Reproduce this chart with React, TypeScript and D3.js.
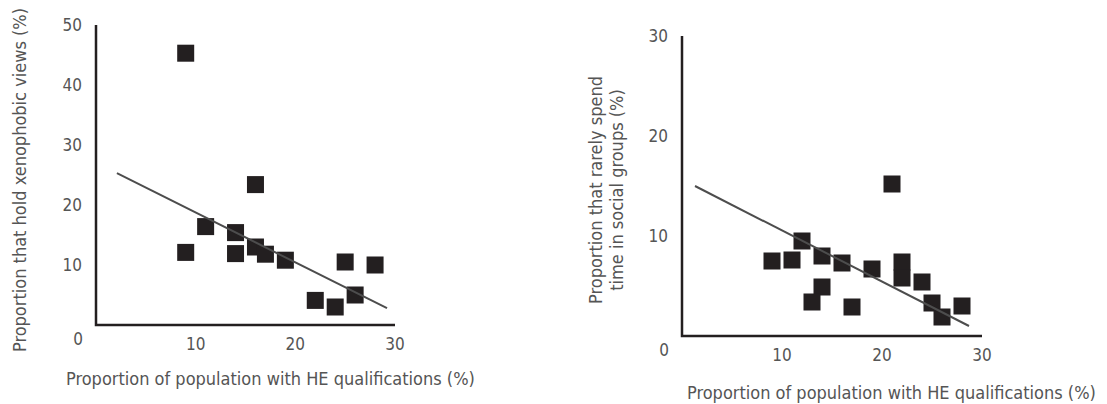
import * as d3 from 'd3';
import React from 'react';

// left panel: xenophobic views vs HE qualifications
const xenoX = [9, 9, 11, 16, 14, 14, 16, 17, 19, 22, 24, 25, 26, 28];
const xenoY = [45.3, 12.1, 16.4, 23.4, 15.4, 11.9, 13.0, 11.8, 10.8, 4.1, 3.0, 10.5, 5.0, 10.0];
const xenoTrend = [[2.1, 25.3], [29.2, 2.8]];
const xenoYTicks = [10, 20, 30, 40, 50];

// right panel: rarely spend time in social groups vs HE qualifications
const socialX = [9, 11, 12, 14, 14, 13, 16, 17, 19, 21, 22, 22, 24, 25, 26, 28];
const socialY = [7.5, 7.6, 9.5, 8.0, 4.9, 3.4, 7.3, 2.9, 6.7, 15.2, 7.4, 5.8, 5.4, 3.3, 1.9, 3.0];
const socialTrend = [[1.3, 15.0], [28.7, 1.0]];
const socialYTicks = [10, 20, 30];

const xTicks = [10, 20, 30];
const xTitle = 'Proportion of population with HE qualifications (%)';

const FONT = "'DejaVu Sans Condensed', 'DejaVu Sans', sans-serif";
const TEXT = '#555';
const INK = '#231f20';

type PanelProps = {
  xs: number[];
  ys: number[];
  trend: number[][];
  yTicks: number[];
  yMax: number;
  left: number;
  right: number;
  top: number;
  bottom: number;
  yTitle: string[];
  yTitleX: number;
  yTitleY: number;
  xTitleX: number;
  xTitleY: number;
};

const SQ = 17;

const Panel: React.FC<PanelProps> = (p) => {
  const x = d3.scaleLinear().domain([0, 30]).range([p.left, p.right]);
  const y = d3.scaleLinear().domain([0, p.yMax]).range([p.bottom, p.top]);
  const line = d3.line<number[]>().x((d) => x(d[0])).y((d) => y(d[1]));

  return (
    <g fontFamily={FONT} fill={TEXT}>
      {p.yTicks.map((t) => (
        <text key={'y' + t} x={p.left - 14} y={y(t)} textAnchor="end" dominantBaseline="central" fontSize={17}>
          {t}
        </text>
      ))}
      <text x={p.left - 13} y={p.bottom + 14} textAnchor="end" dominantBaseline="central" fontSize={17}>0</text>
      {xTicks.map((t) => (
        <text key={'x' + t} x={x(t)} y={p.bottom + 19} textAnchor="middle" dominantBaseline="central" fontSize={17}>
          {t}
        </text>
      ))}

      <path d={`M${p.left},${p.top}V${p.bottom}H${p.right}`} fill="none" stroke={INK} strokeWidth={2.5} />

      {p.xs.map((v, i) => (
        <rect key={i} x={x(v) - SQ / 2} y={y(p.ys[i]) - SQ / 2} width={SQ} height={SQ} fill={INK} />
      ))}

      <path d={line(p.trend) ?? ''} fill="none" stroke="#4d4d4d" strokeWidth={2} />

      {p.yTitle.map((s, i) => (
        <text
          key={s}
          transform={`translate(${p.yTitleX + i * 21},${p.yTitleY}) rotate(-90)`}
          textAnchor="middle"
          dominantBaseline="central"
          fontSize={18}
        >
          {s}
        </text>
      ))}
      <text x={p.xTitleX} y={p.xTitleY} fontSize={18}>{xTitle}</text>
    </g>
  );
};

const App: React.FC = () => {
  return (
    <svg width={1107} height={404} style={{ position: 'absolute', left: 0, top: 0, background: '#fff' }}>
      <Panel
        xs={xenoX}
        ys={xenoY}
        trend={xenoTrend}
        yTicks={xenoYTicks}
        yMax={50}
        left={96}
        right={395}
        top={25}
        bottom={325}
        yTitle={['Proportion that hold xenophobic views (%)']}
        yTitleX={19}
        yTitleY={180}
        xTitleX={66}
        xTitleY={385}
      />
      <Panel
        xs={socialX}
        ys={socialY}
        trend={socialTrend}
        yTicks={socialYTicks}
        yMax={30}
        left={682}
        right={982}
        top={36}
        bottom={336}
        yTitle={['Proportion that rarely spend', 'time in social groups (%)']}
        yTitleX={595}
        yTitleY={190}
        xTitleX={687}
        xTitleY={399}
      />
    </svg>
  );
};

export default App;
